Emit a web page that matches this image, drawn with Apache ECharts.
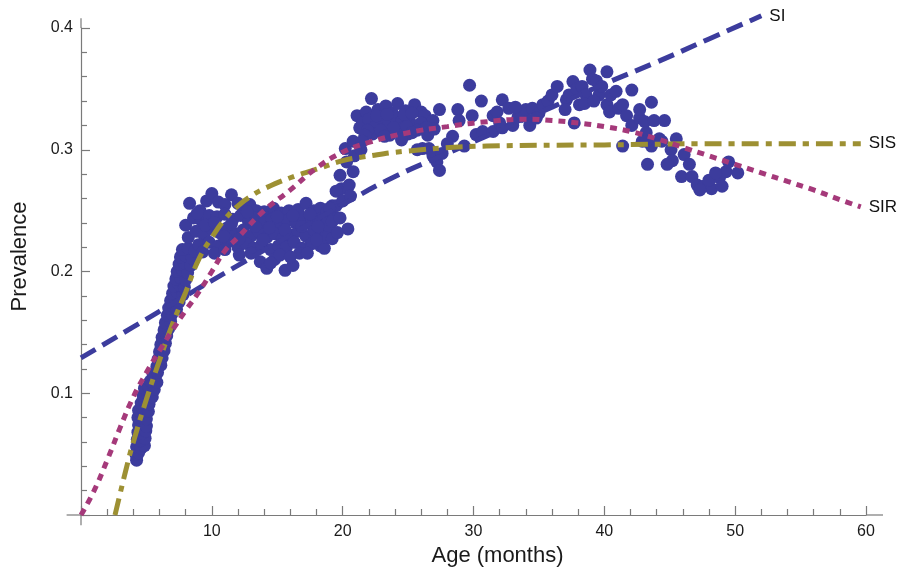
<!DOCTYPE html>
<html><head><meta charset="utf-8">
<script src="https://cdn.jsdelivr.net/npm/echarts@6/dist/echarts.min.js"></script>
<style>html,body{margin:0;padding:0;background:#fff}#c{width:904px;height:572px}</style>
</head><body><div id="c"></div>
<script>
// Model curves (age in months, prevalence)
const siAge  = [0, 4, 8, 12, 16, 20, 24, 28, 32, 36, 40, 44, 48, 52];
const siPrev = [0.129, 0.1545, 0.18, 0.205, 0.23, 0.255, 0.278, 0.297, 0.316, 0.335, 0.354, 0.372, 0.391, 0.41];

const sisAge  = [2.6, 3, 3.5, 4, 5, 6, 7, 8, 9, 10, 11, 12, 13, 14, 16, 18, 20, 21.5, 25, 31, 40, 50, 59.6];
const sisPrev = [0, 0.018, 0.04, 0.06, 0.095, 0.127, 0.157, 0.183, 0.21, 0.228, 0.243, 0.254, 0.262, 0.268, 0.277, 0.284, 0.291, 0.294, 0.299, 0.303, 0.304, 0.305, 0.305];

const sirAge  = [0, 1, 2, 3, 4, 5, 6, 7, 8, 9, 10, 11, 12, 14, 16, 18, 20, 22, 25, 28, 31, 34, 36, 38, 40, 42, 44, 46, 48, 50, 52, 54, 56, 58, 59.6];
const sirPrev = [0, 0.02, 0.045, 0.072, 0.097, 0.117, 0.135, 0.152, 0.168, 0.183, 0.2, 0.217, 0.228, 0.25, 0.267, 0.285, 0.298, 0.306, 0.314, 0.319, 0.323, 0.325, 0.324, 0.322, 0.319, 0.315, 0.309, 0.302, 0.295, 0.288, 0.281, 0.274, 0.267, 0.259, 0.253];

// Observed prevalence points [age, prevalence]
const observed = [
 [4.25,0.045],[4.2,0.05],[4.4,0.051],[4.25,0.056],[4.6,0.055],[4.85,0.057],
 [4.3,0.062],[4.55,0.061],[4.9,0.063],[4.35,0.068],[4.65,0.067],[4.95,0.069],
 [4.4,0.074],[4.7,0.075],[5.0,0.073],[4.35,0.08],[4.65,0.081],[5.0,0.079],
 [4.4,0.086],[4.75,0.087],[5.15,0.085],[4.6,0.092],[4.9,0.093],[5.2,0.091],
 [4.75,0.098],[5.1,0.099],[5.45,0.097],[4.85,0.104],[5.2,0.105],[5.6,0.103],
 [5.3,0.11],[5.6,0.111],[5.8,0.109],[5.5,0.116],[5.85,0.117],[5.8,0.122],[6.1,0.123],
 [5.9,0.128],[6.2,0.129],[6.0,0.134],[6.35,0.135],[6.1,0.14],[6.45,0.141],
 [6.2,0.146],[6.55,0.147],[6.35,0.152],[6.7,0.153],[6.45,0.158],[6.85,0.159],
 [6.6,0.164],[6.95,0.165],[6.7,0.17],[7.1,0.171],[7.3,0.169],[6.85,0.176],[7.2,0.177],[7.5,0.175],
 [7.0,0.182],[7.35,0.183],[7.8,0.181],[7.1,0.188],[7.5,0.189],[7.9,0.187],
 [7.25,0.194],[7.6,0.195],[8.0,0.193],[7.35,0.2],[7.75,0.201],[8.15,0.199],
 [7.5,0.206],[7.9,0.207],[8.4,0.205],[7.6,0.212],[8.0,0.213],[8.5,0.211],
 [7.75,0.218],[8.2,0.219],[8.7,0.217],
 [8.3,0.256],[9.1,0.25],[9.6,0.258],[10.0,0.264],[10.5,0.257],[11.0,0.255],[11.5,0.263],[12.0,0.256],
 [12.4,0.252],[12.9,0.255],[13.4,0.25],[14.0,0.249],[14.7,0.252],[15.3,0.248],[15.9,0.25],[16.6,0.251],
 [17.2,0.256],[17.8,0.25],[18.3,0.252],[18.8,0.249],[19.2,0.254],
 [8.0,0.238],[8.6,0.244],[9.2,0.242],[9.8,0.246],[10.4,0.245],[11.0,0.247],[11.6,0.243],[12.2,0.246],
 [12.8,0.241],[13.4,0.244],[14.0,0.24],[14.6,0.243],[15.2,0.239],[15.8,0.242],[16.4,0.24],[17.0,0.244],
 [17.6,0.241],[18.2,0.243],[18.8,0.24],[19.3,0.245],
 [8.2,0.228],[8.8,0.233],[9.4,0.23],[10.0,0.235],[10.6,0.232],[11.2,0.236],[11.8,0.231],[12.4,0.234],
 [13.0,0.229],[13.6,0.233],[14.2,0.228],[14.8,0.231],[15.4,0.227],[16.0,0.23],[16.6,0.233],[17.2,0.229],
 [17.8,0.234],[18.4,0.231],[19.0,0.236],
 [9.0,0.222],[9.8,0.224],[10.5,0.221],[11.3,0.225],[12.0,0.22],[12.6,0.223],[13.2,0.219],[13.8,0.222],
 [14.5,0.218],[15.1,0.221],[15.7,0.22],[16.3,0.224],[16.9,0.219],[17.6,0.223],[18.3,0.221],[18.6,0.219],
 [12.1,0.2135],[13.0,0.215],[13.7,0.208],[14.2,0.2026],[14.8,0.21],[15.2,0.2135],[15.6,0.201],[16.2,0.205],
 [16.7,0.215],[17.7,0.223],[16.0,0.212],[14.5,0.207],
 [8.9,0.248],[9.5,0.238],[10.2,0.24],[10.9,0.229],[11.5,0.239],[12.1,0.227],[12.7,0.249],[13.3,0.237],
 [13.9,0.226],[14.4,0.236],[15.0,0.245],[15.6,0.234],[16.2,0.246],[16.9,0.237],[17.5,0.247],[18.1,0.237],
 [18.7,0.228],[9.3,0.216],[10.2,0.215],[11.0,0.218],[17.3,0.215],[18.0,0.226],
 [19.2,0.227],[19.2,0.241],[19.5,0.254],[19.9,0.268],[19.8,0.279],[20.3,0.29],[20.2,0.301],[20.8,0.282],
 [20.8,0.307],[21.3,0.318],[21.1,0.328],[20.5,0.271],[19.5,0.266],[19.8,0.244],[19.0,0.252],[20.0,0.258],
 [20.4,0.235],[19.6,0.232],[20.6,0.262],[20.9,0.295],[21.4,0.3],
 [22.2,0.342],[21.8,0.331],[22.7,0.333],[23.3,0.336],[23.8,0.33],[24.2,0.338],[24.8,0.332],[25.5,0.337],
 [26.0,0.331],[26.3,0.328],[26.9,0.324],
 [21.5,0.322],[22.0,0.325],[22.5,0.319],[23.0,0.326],[23.5,0.321],[24.0,0.327],[24.5,0.323],[25.0,0.325],
 [25.5,0.32],[26.0,0.322],[22.3,0.313],[22.9,0.316],[23.6,0.312],[24.3,0.317],[25.0,0.313],[25.7,0.316],[26.4,0.318],
 [21.9,0.316],[22.6,0.328],[23.9,0.318],[24.7,0.329],[25.3,0.33],[26.5,0.312],[27.0,0.317],[21.7,0.312],
 [23.4,0.329],[24.9,0.319],
 [21.5,0.307],[23.2,0.311],[24.5,0.308],[25.3,0.314],[25.7,0.3],[26.1,0.301],[26.6,0.301],[27.2,0.29],
 [27.4,0.283],[26.9,0.295],[27.6,0.297],
 [27.4,0.333],[28.4,0.311],[28.8,0.333],[28.9,0.324],[29.7,0.353],[29.9,0.328],[30.2,0.3125],[30.6,0.34],
 [30.7,0.315],[31.5,0.328],[28.0,0.305],[29.3,0.303],
 [31.5,0.315],[31.8,0.331],[32.0,0.322],[32.2,0.341],[32.2,0.318],[32.7,0.334],[33.0,0.32],[33.4,0.327],
 [33.7,0.328],[34.0,0.333],[34.3,0.32],[34.5,0.334],[35.0,0.33],[35.3,0.337],[35.7,0.34],[36.0,0.345],
 [36.4,0.352],[34.8,0.326],[33.2,0.335],
 [37.1,0.341],[37.3,0.345],[37.6,0.356],[37.9,0.35],[38.1,0.337],[38.3,0.352],[38.6,0.345],[38.9,0.3655],
 [39.1,0.358],[39.4,0.3565],[39.6,0.345],[39.8,0.352],[40.2,0.364],[40.2,0.337],[40.5,0.345],[40.9,0.348],
 [40.4,0.331],[41.1,0.334],[41.4,0.337],[41.7,0.328],[42.1,0.349],[42.1,0.32],[42.7,0.326],[42.7,0.333],
 [43.6,0.339],[43.1,0.323],[43.8,0.324],[44.6,0.324],[37.0,0.333],[38.5,0.338],[39.2,0.34],[37.7,0.322],
 [41.4,0.303],[43.2,0.314],[42.9,0.307],[43.6,0.303],[44.2,0.309],[44.4,0.307],[45.5,0.309],[43.3,0.288],
 [45.1,0.3],[45.2,0.291],[44.8,0.288],[46.1,0.296],[46.5,0.288],[45.9,0.278],[46.7,0.278],[47.1,0.271],
 [47.6,0.27],[48.2,0.268],[47.3,0.267],[48.0,0.275],[48.8,0.277],[49.3,0.282],[48.5,0.281],[49.5,0.29],
 [50.2,0.281],[49.0,0.27],[43.2,0.307]
];

const xTickStep = 10, yTickStep = 0.1;

const BLUE = '#3c3c9d', MAG = '#a5397a', OLIVE = '#9d9033';
const AXIS = '#7a7a7a';

const zip = (a, b) => a.map((v, i) => [v, b[i]]);

const chart = echarts.init(document.getElementById('c'));
const font = 'Liberation Sans, Arial, Helvetica, sans-serif';

function lineSeries(name, xs, ys, color, dash) {
  return {
    name, type: 'line', data: zip(xs, ys), showSymbol: false, smooth: true,
    clip: false, z: 5, silent: true,
    lineStyle: { color, width: 5, type: dash, cap: 'butt' },
    endLabel: { show: true, formatter: '{a}', color: '#111', fontSize: 17, fontFamily: font, distance: 8 }
  };
}

chart.setOption({
  animation: false,
  backgroundColor: '#fff',
  grid: { left: 81, right: 38, top: 28, bottom: 55, containLabel: false },
  xAxis: {
    type: 'value', min: 0, max: 60, interval: xTickStep,
    name: 'Age (months)', nameLocation: 'middle', nameGap: 30,
    nameTextStyle: { fontSize: 22, color: '#1a1a1a', fontFamily: font, padding: [0, 0, 0, 48] },
    axisLine: { show: true, lineStyle: { color: AXIS, width: 1.2 } },
    axisTick: { show: true, inside: true, length: 9, lineStyle: { color: AXIS, width: 1.2 } },
    minorTick: { show: true, splitNumber: 5, length: 6, lineStyle: { color: AXIS, width: 1.2 } },
    splitLine: { show: false },
    axisLabel: { fontSize: 16, color: '#1a1a1a', fontFamily: font, margin: 9,
      formatter: v => v === 0 ? '' : String(v) }
  },
  yAxis: {
    type: 'value', min: 0, max: 0.4, interval: yTickStep,
    name: 'Prevalence', nameLocation: 'middle', nameGap: 50,
    nameTextStyle: { fontSize: 22, color: '#1a1a1a', fontFamily: font, padding: [0, 0, 0, 30] },
    axisLine: { show: true, lineStyle: { color: AXIS, width: 1.2 } },
    axisTick: { show: true, inside: true, length: 9, lineStyle: { color: AXIS, width: 1.2 } },
    minorTick: { show: true, splitNumber: 5, length: 6, lineStyle: { color: AXIS, width: 1.2 } },
    splitLine: { show: false },
    axisLabel: { fontSize: 16, color: '#1a1a1a', fontFamily: font, margin: 8,
      formatter: v => v === 0 ? '' : v.toFixed(1) }
  },
  series: [
    { name: 'data', type: 'scatter', data: observed, symbol: 'circle', symbolSize: 13,
      itemStyle: { color: BLUE, opacity: 1 }, z: 2, silent: true },
    lineSeries('SI', siAge, siPrev, BLUE, [17, 8]),
    lineSeries('SIS', sisAge, sisPrev, OLIVE, [17, 7, 6, 7]),
    lineSeries('SIR', sirAge, sirPrev, MAG, [7, 6])
  ]
});

// Axis line overhangs (Mathematica-style axes crossing)
const o = chart.convertToPixel({ gridIndex: 0 }, [0, 0]);
const xl = chart.convertToPixel({ gridIndex: 0 }, [-1.1, 0]);
const xr = chart.convertToPixel({ gridIndex: 0 }, [61.3, 0]);
const xe = chart.convertToPixel({ gridIndex: 0 }, [60, 0]);
const yb = chart.convertToPixel({ gridIndex: 0 }, [0, -0.0085]);
const yt = chart.convertToPixel({ gridIndex: 0 }, [0, 0.408]);
const ye = chart.convertToPixel({ gridIndex: 0 }, [0, 0.4]);
const ls = { stroke: AXIS, lineWidth: 1.2 };
chart.setOption({
  graphic: [
    { type: 'line', shape: { x1: xl[0], y1: o[1], x2: o[0], y2: o[1] }, style: ls, silent: true },
    { type: 'line', shape: { x1: xe[0], y1: o[1], x2: xr[0], y2: o[1] }, style: ls, silent: true },
    { type: 'line', shape: { x1: o[0], y1: o[1], x2: o[0], y2: yb[1] }, style: ls, silent: true },
    { type: 'line', shape: { x1: o[0], y1: ye[1], x2: o[0], y2: yt[1] }, style: ls, silent: true }
  ]
});
</script>
</body></html>
